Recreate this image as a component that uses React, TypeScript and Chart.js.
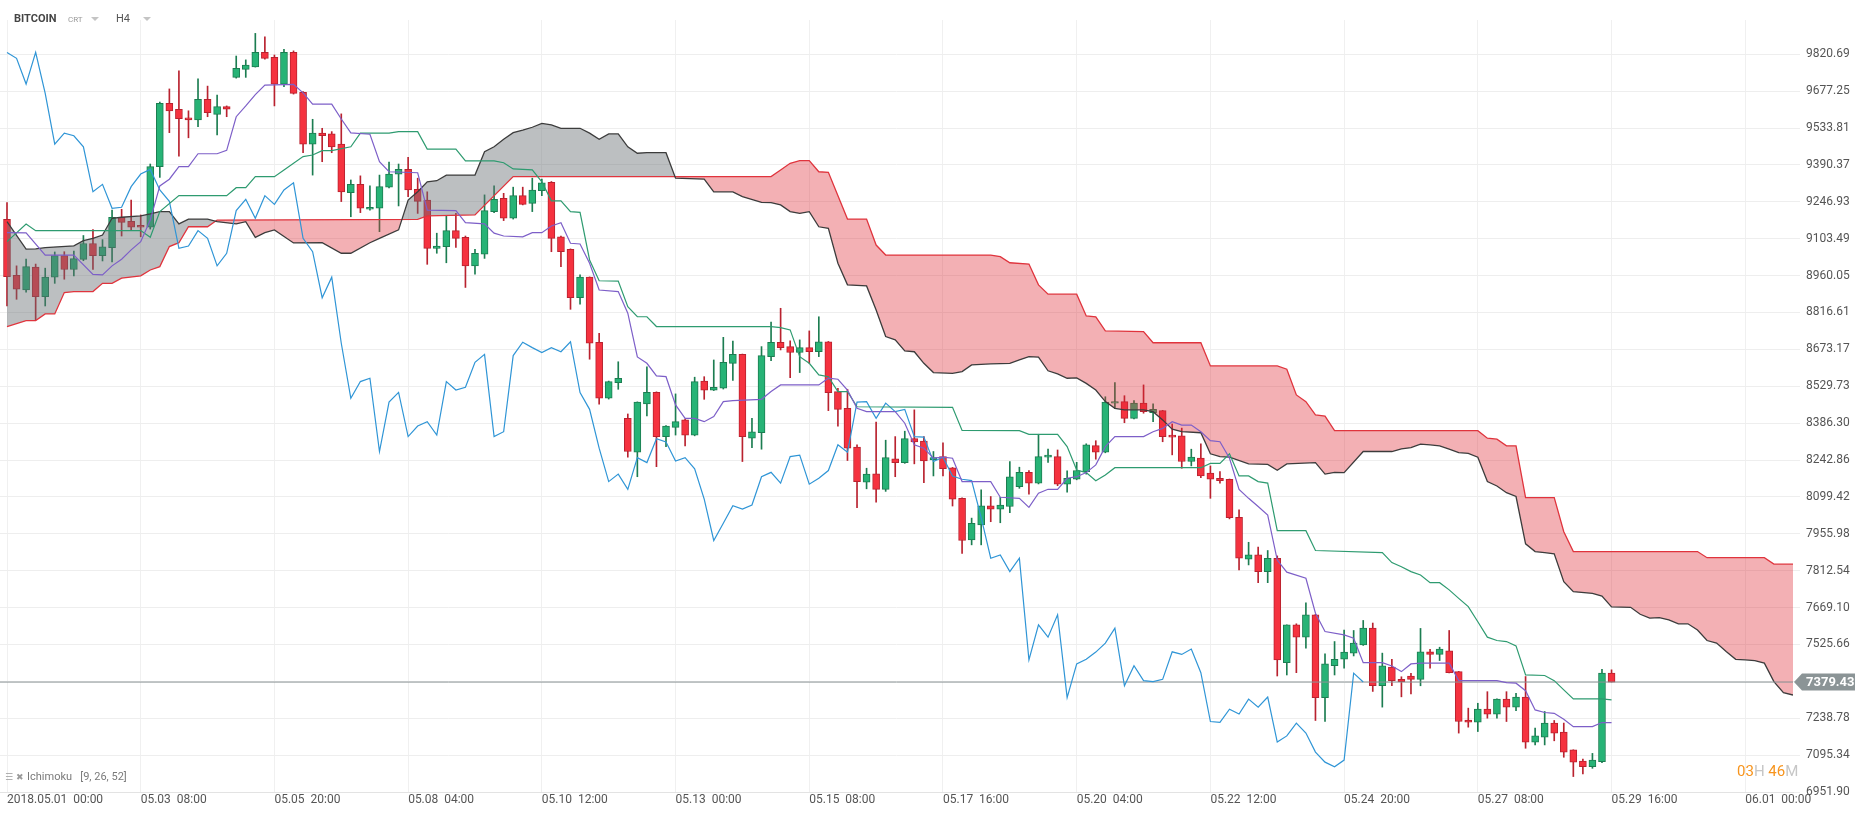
import React, { useEffect, useRef } from "react";
import { Chart, registerables } from "chart.js";

Chart.register(...registerables);

// ---- axis labels ----
const xTickLabels = [
  "2018.05.01  00:00", "05.03  08:00", "05.05  20:00", "05.08  04:00", "05.10  12:00",
  "05.13  00:00", "05.15  08:00", "05.17  16:00", "05.20  04:00", "05.22  12:00",
  "05.24  20:00", "05.27  08:00", "05.29  16:00", "06.01  00:00",
];
const barsPerLabel = 14; // 4h bars between labelled ticks
const yTickValues = [
  6951.9, 7095.34, 7238.78, 7382.22, 7525.66, 7669.1, 7812.54, 7955.98, 8099.42, 8242.86,
  8386.3, 8529.73, 8673.17, 8816.61, 8960.05, 9103.49, 9246.93, 9390.37, 9533.81, 9677.25, 9820.69,
];
const lastPrice = 7379.43;
const chikouShift = 26;

// ---- candles (H4) ----
const opens = [
  9179, 8961, 8904, 8993, 8878, 8954, 9038, 8984, 9023, 9085, 9038, 9069, 9187, 9171, 9156, 9148, 9384, 9630, 9607, 9574,
  9566, 9646, 9587, 9617, 9731, 9762, 9772, 9828, 9809, 9705, 9828, 9673, 9471, 9514, 9511, 9472, 9283, 9315, 9218, 9222,
  9304, 9355, 9373, 9296, 9254, 9066, 9073, 9135, 9109, 8998, 9043, 9209, 9261, 9183, 9271, 9241, 9290, 9323, 9111, 9062,
  8874, 8954, 8701, 8483, 8544, 8405, 8273, 8461, 8506, 8334, 8370, 8399, 8340, 8550, 8515, 8522, 8619, 8654, 8328, 8349,
  8645, 8701, 8684, 8661, 8680, 8664, 8703, 8509, 8444, 8293, 8157, 8189, 8129, 8248, 8233, 8326, 8317, 8243, 8256, 8213,
  8094, 7932, 7991, 8065, 8052, 8062, 8139, 8195, 8153, 8254, 8256, 8149, 8168, 8198, 8299, 8273, 8464, 8470, 8405, 8464,
  8427, 8435, 8340, 8337, 8237, 8250, 8192, 8172, 8168, 8020, 7857, 7874, 7809, 7861, 7455, 7602, 7554, 7641, 7319, 7443,
  7468, 7492, 7524, 7589, 7365, 7438, 7390, 7403, 7390, 7497, 7487, 7501, 7420, 7232, 7223, 7274, 7255, 7313, 7282, 7321,
  7146, 7165, 7220, 7185, 7116, 7072, 7050, 7070, 7414,
];
const highs = [
  9244, 8998, 9024, 9005, 8989, 9052, 9053, 9055, 9116, 9139, 9100, 9215, 9218, 9254, 9196, 9394, 9635, 9686, 9756, 9601,
  9725, 9697, 9662, 9620, 9814, 9799, 9902, 9889, 9818, 9840, 9834, 9676, 9568, 9533, 9520, 9589, 9332, 9348, 9309, 9351,
  9402, 9394, 9420, 9339, 9286, 9125, 9192, 9202, 9114, 9062, 9274, 9309, 9280, 9304, 9304, 9339, 9335, 9326, 9114, 9064,
  8963, 8955, 8736, 8550, 8625, 8422, 8469, 8605, 8508, 8377, 8500, 8402, 8565, 8567, 8632, 8720, 8705, 8655, 8405, 8684,
  8779, 8833, 8706, 8710, 8745, 8800, 8704, 8522, 8518, 8302, 8211, 8390, 8320, 8334, 8355, 8438, 8334, 8276, 8310, 8214,
  8096, 8017, 8127, 8101, 8098, 8237, 8215, 8202, 8343, 8285, 8282, 8201, 8234, 8306, 8318, 8489, 8544, 8493, 8474, 8535,
  8461, 8436, 8383, 8367, 8285, 8306, 8220, 8198, 8169, 8049, 7923, 7904, 7891, 7870, 7602, 7606, 7688, 7643, 7489, 7537,
  7582, 7580, 7619, 7609, 7492, 7468, 7400, 7413, 7588, 7507, 7515, 7580, 7421, 7278, 7297, 7342, 7314, 7342, 7336, 7401,
  7200, 7265, 7230, 7220, 7116, 7080, 7102, 7429, 7427,
];
const lows = [
  8842, 8868, 8896, 8788, 8842, 8930, 8946, 8959, 9018, 8984, 9017, 9013, 9114, 9137, 9111, 9141, 9342, 9516, 9425, 9496,
  9539, 9578, 9507, 9578, 9728, 9731, 9771, 9802, 9620, 9695, 9666, 9438, 9351, 9403, 9438, 9248, 9189, 9205, 9215, 9131,
  9301, 9231, 9267, 9202, 9004, 9047, 9010, 9070, 8914, 8966, 9027, 9205, 9174, 9180, 9235, 9209, 9271, 9053, 8995, 8829,
  8849, 8635, 8460, 8480, 8518, 8254, 8178, 8414, 8217, 8295, 8340, 8298, 8337, 8479, 8513, 8519, 8552, 8237, 8291, 8285,
  8629, 8671, 8563, 8583, 8619, 8645, 8435, 8375, 8241, 8058, 8131, 8079, 8121, 8178, 8230, 8228, 8155, 8181, 8181, 8064,
  7880, 7913, 7913, 8003, 7999, 8038, 8133, 8110, 8150, 8234, 8143, 8118, 8166, 8188, 8246, 8271, 8443, 8388, 8403, 8425,
  8392, 8314, 8263, 8211, 8220, 8174, 8094, 8153, 8014, 7816, 7835, 7766, 7766, 7403, 7407, 7416, 7511, 7230, 7226, 7407,
  7433, 7481, 7522, 7343, 7282, 7365, 7322, 7333, 7365, 7433, 7463, 7415, 7181, 7204, 7187, 7239, 7239, 7226, 7268, 7122,
  7135, 7135, 7151, 7087, 7012, 7022, 7044, 7066, 7379.43,
];
const closes = [
  8956, 8907, 8995, 8878, 8954, 9038, 8984, 9026, 9085, 9038, 9072, 9187, 9167, 9148, 9148, 9384, 9630, 9601, 9570, 9566,
  9646, 9594, 9617, 9607, 9766, 9779, 9828, 9805, 9705, 9828, 9669, 9471, 9514, 9504, 9461, 9286, 9315, 9222, 9226, 9306,
  9355, 9373, 9293, 9249, 9066, 9075, 9135, 9105, 8998, 9047, 9213, 9257, 9183, 9271, 9237, 9293, 9321, 9105, 9053, 8874,
  8954, 8697, 8483, 8548, 8561, 8276, 8468, 8506, 8334, 8375, 8392, 8340, 8548, 8515, 8526, 8623, 8654, 8334, 8353, 8649,
  8701, 8680, 8661, 8680, 8664, 8703, 8505, 8440, 8289, 8159, 8188, 8129, 8252, 8233, 8326, 8313, 8239, 8252, 8209, 8091,
  7930, 7997, 8065, 8052, 8068, 8178, 8195, 8153, 8256, 8262, 8149, 8172, 8202, 8302, 8273, 8468, 8470, 8405, 8464, 8431,
  8440, 8334, 8332, 8237, 8254, 8181, 8168, 8163, 8019, 7861, 7874, 7809, 7861, 7466, 7602, 7554, 7641, 7319, 7450, 7468,
  7496, 7531, 7589, 7365, 7443, 7385, 7381, 7390, 7497, 7487, 7508, 7416, 7226, 7223, 7274, 7255, 7313, 7282, 7321, 7146,
  7170, 7220, 7181, 7107, 7068, 7050, 7076, 7414, 7379.43,
];

// ---- Ichimoku lines, read as [bar index, price] vertices ----
const tenkan = [
  [0, 9127], [2, 9126], [4, 9040], [7, 9040], [9, 8965], [10, 8963], [11, 8998], [12, 9024], [13, 9060], [14, 9092],
  [15, 9176], [16, 9309], [17, 9335], [18, 9384], [19, 9384], [20, 9434], [22, 9434], [23, 9447], [24, 9578], [25, 9620],
  [26, 9664], [27, 9701], [30, 9704], [31, 9671], [32, 9627], [34, 9627], [35, 9569], [36, 9515], [38, 9510], [39, 9403],
  [40, 9364], [43, 9360], [44, 9215], [47, 9213], [48, 9166], [50, 9161], [51, 9125], [52, 9114], [54, 9111], [55, 9127],
  [56, 9127], [57, 9153], [58, 9166], [59, 9086], [60, 9083], [61, 9008], [62, 8904], [64, 8898], [65, 8814], [66, 8644],
  [67, 8619], [68, 8570], [69, 8567], [70, 8457], [71, 8405], [72, 8405], [73, 8392], [74, 8412], [75, 8470], [76, 8474],
  [79, 8479], [80, 8509], [81, 8535], [85, 8535], [86, 8561], [87, 8557], [88, 8515], [89, 8444], [90, 8431], [93, 8431],
  [94, 8386], [95, 8302], [96, 8289], [97, 8250], [98, 8254], [99, 8250], [100, 8159], [103, 8159], [104, 8098], [106, 8094],
  [107, 8059], [108, 8114], [109, 8129], [110, 8129], [111, 8172], [112, 8178], [113, 8194], [114, 8224], [115, 8295], [116, 8334],
  [119, 8334], [120, 8353], [121, 8366], [122, 8392], [123, 8379], [124, 8379], [125, 8353], [126, 8318], [127, 8314], [128, 8250],
  [129, 8129], [130, 8094], [131, 8062], [132, 8029], [133, 7854], [134, 7807], [136, 7783], [137, 7647], [138, 7576], [140, 7563],
  [141, 7550], [142, 7455], [144, 7455], [145, 7442], [146, 7420], [147, 7450], [148, 7453], [151, 7453], [152, 7385], [156, 7385],
  [157, 7377], [158, 7375], [159, 7346], [160, 7271], [161, 7261], [162, 7258], [163, 7235], [164, 7206], [166, 7206], [167, 7222],
  [168, 7222],
];
const kijun = [
  [0, 9092], [2, 9161], [3, 9135], [14, 9135], [15, 9109], [16, 9209], [18, 9271], [23, 9271], [24, 9302], [25, 9302],
  [26, 9345], [28, 9345], [29, 9371], [31, 9423], [32, 9429], [33, 9446], [34, 9446], [36, 9461], [37, 9514], [40, 9514],
  [41, 9520], [43, 9520], [44, 9452], [47, 9452], [48, 9406], [51, 9406], [52, 9399], [53, 9375], [55, 9371], [56, 9325],
  [57, 9251], [58, 9251], [59, 9209], [60, 9206], [61, 9021], [62, 8940], [64, 8939], [65, 8839], [66, 8800], [67, 8800],
  [68, 8762], [80, 8762], [81, 8758], [82, 8749], [83, 8645], [84, 8619], [85, 8574], [86, 8567], [87, 8509], [88, 8509],
  [89, 8450], [99, 8448], [100, 8358], [106, 8357], [107, 8343], [110, 8343], [111, 8295], [112, 8204], [113, 8194], [114, 8162],
  [115, 8185], [116, 8213], [125, 8213], [126, 8230], [127, 8230], [128, 8267], [129, 8181], [130, 8181], [131, 8159], [132, 8153],
  [133, 7968], [136, 7968], [137, 7891], [144, 7883], [145, 7844], [146, 7828], [147, 7809], [148, 7796], [149, 7766], [150, 7766],
  [151, 7738], [152, 7705], [153, 7673], [154, 7614], [155, 7554], [156, 7541], [157, 7537], [158, 7520], [159, 7407], [161, 7405],
  [162, 7385], [163, 7349], [164, 7314], [167, 7314], [168, 7310],
];
const senkouA = [
  [0, 9170], [2, 9063], [3, 9064], [4, 9069], [7, 9076], [8, 9096], [9, 9105], [10, 9118], [11, 9183], [12, 9187],
  [14, 9192], [15, 9200], [16, 9209], [17, 9209], [18, 9161], [19, 9180], [21, 9180], [22, 9170], [24, 9161], [25, 9170],
  [26, 9109], [27, 9127], [28, 9138], [30, 9087], [33, 9088], [35, 9047], [36, 9047], [38, 9088], [39, 9105], [41, 9138],
  [42, 9254], [43, 9286], [44, 9325], [45, 9329], [46, 9351], [49, 9351], [50, 9442], [51, 9461], [52, 9490], [53, 9516],
  [54, 9526], [55, 9537], [56, 9552], [57, 9546], [58, 9533], [60, 9533], [61, 9514], [62, 9490], [63, 9511], [64, 9511],
  [65, 9461], [66, 9436], [67, 9438], [69, 9438], [70, 9339], [73, 9335], [74, 9286], [76, 9286], [77, 9267], [79, 9245],
  [80, 9244], [81, 9235], [82, 9209], [83, 9202], [84, 9209], [85, 9150], [86, 9144], [87, 9008], [88, 8924], [90, 8920],
  [91, 8826], [92, 8723], [93, 8710], [94, 8667], [95, 8664], [96, 8619], [97, 8583], [99, 8580], [100, 8587], [101, 8613],
  [103, 8617], [105, 8619], [106, 8632], [107, 8645], [108, 8643], [109, 8590], [110, 8578], [111, 8561], [112, 8562], [113, 8541],
  [114, 8515], [115, 8470], [116, 8444], [117, 8438], [119, 8438], [120, 8431], [121, 8399], [122, 8363], [123, 8353], [125, 8349],
  [126, 8267], [127, 8256], [128, 8254], [130, 8228], [132, 8226], [133, 8203], [134, 8228], [137, 8233], [138, 8188], [139, 8195],
  [140, 8194], [142, 8276], [145, 8276], [146, 8286], [147, 8291], [148, 8305], [149, 8302], [150, 8298], [151, 8285], [152, 8272],
  [153, 8269], [154, 8254], [155, 8159], [156, 8142], [157, 8116], [158, 8101], [159, 7917], [160, 7887], [161, 7883], [162, 7878],
  [163, 7770], [164, 7731], [166, 7724], [167, 7714], [168, 7672], [170, 7670], [171, 7643], [172, 7628], [173, 7630], [174, 7621],
  [175, 7606], [176, 7606], [177, 7582], [178, 7541], [179, 7531], [180, 7498], [181, 7468], [182, 7466], [183, 7463], [184, 7453],
  [185, 7381], [186, 7338], [187, 7329],
];
const senkouB = [
  [0, 8762], [2, 8785], [3, 8785], [4, 8811], [5, 8811], [6, 8894], [7, 8898], [9, 8898], [10, 8930], [11, 8930],
  [12, 8950], [14, 8959], [15, 8982], [16, 8995], [17, 9073], [18, 9088], [19, 9150], [21, 9150], [22, 9176], [43, 9179],
  [44, 9192], [49, 9196], [53, 9345], [80, 9345], [81, 9371], [82, 9397], [83, 9407], [84, 9407], [85, 9364], [86, 9362],
  [88, 9180], [90, 9180], [91, 9079], [92, 9040], [103, 9040], [104, 9034], [105, 9010], [107, 9005], [108, 8924], [109, 8888],
  [112, 8888], [113, 8803], [114, 8800], [115, 8745], [119, 8742], [120, 8699], [125, 8699], [126, 8609], [133, 8609], [134, 8596],
  [135, 8496], [136, 8470], [137, 8418], [138, 8414], [139, 8357], [154, 8357], [155, 8328], [156, 8324], [157, 8298], [158, 8298],
  [159, 8097], [162, 8097], [163, 7964], [164, 7887], [177, 7887], [178, 7863], [184, 7863], [185, 7838], [187, 7838],
];

// ---- styles ----
const GREEN_FILL = "#27b376";
const GREEN_LINE = "#1c7d51";
const RED_FILL = "#f5323f";
const RED_LINE = "#b9222f";
const CLOUD_BULL = "rgba(102,110,114,0.44)";
const CLOUD_BEAR = "rgba(222,42,52,0.37)";

export default function App() {
  const canvasRef = useRef<HTMLCanvasElement | null>(null);

  useEffect(() => {
    const canvas = canvasRef.current;
    if (!canvas) return;
    const idx = opens.map((_, i) => i);
    const up = idx.map((i) => closes[i] >= opens[i]);
    const bodies = idx.map((i) => ({ x: i, y: [opens[i], closes[i]] }));
    const wicks = idx.map((i) => ({ x: i, y: [lows[i], highs[i]] }));
    const chikou = closes.slice(chikouShift).map((c, i) => ({ x: i, y: c }));
    const pts = (arr: number[][]) => arr.map(([x, y]) => ({ x, y }));
    const xMin = -0.733;
    const xMax = 187;

    const priceTag = {
      id: "priceTag",
      afterDraw(chart: any) {
        const ctx = chart.ctx;
        const y = chart.scales.y.getPixelForValue(lastPrice);
        const x0 = chart.chartArea.right + 1;
        ctx.save();
        ctx.fillStyle = "#8b9496";
        ctx.beginPath();
        ctx.moveTo(x0, y);
        ctx.lineTo(x0 + 8, y - 8.5);
        ctx.lineTo(1855, y - 8.5);
        ctx.lineTo(1855, y + 8.5);
        ctx.lineTo(x0 + 8, y + 8.5);
        ctx.closePath();
        ctx.fill();
        ctx.fillStyle = "#ffffff";
        ctx.font = "bold 13px Roboto";
        ctx.textBaseline = "middle";
        ctx.textAlign = "left";
        ctx.fillText(lastPrice.toFixed(2), 1806, y + 0.5);
        ctx.restore();
      },
    };

    const lineBase = { type: "line" as const, pointRadius: 0, tension: 0, fill: false };

    const chart = new Chart(canvas, {
      type: "bar",
      data: {
        datasets: [
          { ...lineBase, label: "Tenkan", data: pts(tenkan), borderColor: "#7d5fc8", borderWidth: 1.2, order: 1 },
          { ...lineBase, label: "Kijun", data: pts(kijun), borderColor: "#2e9b70", borderWidth: 1.2, order: 1 },
          { ...lineBase, label: "Chikou", data: chikou, borderColor: "#2f95d6", borderWidth: 1.2, order: 1 },
          {
            ...lineBase, label: "Price",
            data: [{ x: xMin, y: lastPrice }, { x: xMax, y: lastPrice }],
            borderColor: "#8b9496", borderWidth: 1, order: 2,
          },
          { ...lineBase, label: "SenkouA", data: pts(senkouA), borderColor: "#3c3c3c", borderWidth: 1.3, order: 3 },
          { ...lineBase, label: "SenkouB", data: pts(senkouB), borderColor: "#e0343d", borderWidth: 1.3, order: 3 },
          {
            ...lineBase, label: "Cloud", data: pts(senkouA), borderWidth: 0, borderColor: "rgba(0,0,0,0)",
            fill: { target: 5, above: CLOUD_BULL, below: CLOUD_BEAR }, order: 5,
          },
          {
            type: "bar", label: "Bodies", data: bodies as any,
            backgroundColor: up.map((u) => (u ? GREEN_FILL : RED_FILL)),
            borderColor: up.map((u) => (u ? GREEN_LINE : RED_LINE)),
            borderWidth: 1, borderSkipped: false, barThickness: 7, grouped: false, order: 10,
          },
          {
            type: "bar", label: "Wicks", data: wicks as any,
            backgroundColor: up.map((u) => (u ? GREEN_LINE : RED_LINE)),
            borderWidth: 0, barThickness: 1, grouped: false, order: 11,
          },
        ] as any,
      },
      options: {
        responsive: false,
        animation: false,
        events: [],
        layout: { padding: { top: 20, left: 0, right: 0, bottom: 0 } },
        plugins: { legend: { display: false }, tooltip: { enabled: false } },
        scales: {
          x: {
            type: "linear",
            min: xMin,
            max: xMax,
            offset: false,
            grid: { color: "#f0f0f0", drawTicks: false, offset: false },
            border: { display: true, color: "#e3e3e3" },
            afterBuildTicks: (s: any) => {
              s.ticks = xTickLabels.map((_, k) => ({ value: k * barsPerLabel }));
            },
            afterFit: (s: any) => {
              s.height = 25;
            },
            ticks: {
              autoSkip: false,
              maxRotation: 0,
              align: "start",
              padding: 1,
              color: "#555555",
              font: { family: "Roboto", size: 12 },
              callback: (v: any) => xTickLabels[Math.round(Number(v) / barsPerLabel)] ?? "",
            },
          },
          y: {
            type: "linear",
            position: "right",
            min: 6951.9,
            max: 9954.1,
            grid: { color: "#eeeeee", tickLength: 7 },
            border: { display: false },
            afterBuildTicks: (s: any) => {
              s.ticks = yTickValues.map((v) => ({ value: v }));
            },
            afterFit: (s: any) => {
              s.width = 73;
            },
            ticks: {
              padding: 6,
              color: "#555555",
              font: { family: "Roboto", size: 12 },
              callback: (v: any) => Number(v).toFixed(2),
            },
          },
        },
      } as any,
      plugins: [priceTag],
    });
    return () => chart.destroy();
  }, []);

  const tri = (left: number) => (
    <div
      style={{
        position: "absolute", left, top: 17, width: 0, height: 0,
        borderLeft: "4px solid transparent", borderRight: "4px solid transparent",
        borderTop: "4px solid #c4c4c4",
      }}
    />
  );

  return (
    <div style={{ position: "fixed", left: 0, top: 0, width: 1866, height: 817, background: "#fff", overflow: "hidden" }}>
      <canvas ref={canvasRef} width={1866} height={817} style={{ display: "block", width: 1866, height: 817 }} />
      <div style={{ position: "absolute", left: 14, top: 13, font: "bold 11px Roboto", lineHeight: "12px", color: "#454545" }}>
        BITCOIN
      </div>
      <div style={{ position: "absolute", left: 68, top: 15, font: "8px Roboto", lineHeight: "9px", color: "#9a9a9a" }}>CRT</div>
      {tri(91)}
      <div style={{ position: "absolute", left: 116, top: 13, font: "11px Roboto", lineHeight: "12px", color: "#555" }}>H4</div>
      {tri(143)}
      <div style={{ position: "absolute", left: 5, top: 771, font: "9px 'DejaVu Sans'", lineHeight: "12px", color: "#9a9a9a" }}>☰</div>
      <div style={{ position: "absolute", left: 16, top: 771, font: "9px 'DejaVu Sans'", lineHeight: "12px", color: "#9a9a9a" }}>✖</div>
      <div
        style={{
          position: "absolute", left: 27, top: 771, font: "11px Roboto", lineHeight: "12px", color: "#7a7a7a",
          whiteSpace: "pre",
        }}
      >
        Ichimoku   [9, 26, 52]
      </div>
      <div style={{ position: "absolute", left: 1737, top: 763, font: "15px Roboto", lineHeight: "16px", whiteSpace: "pre" }}>
        <span style={{ color: "#f7941d" }}>03</span>
        <span style={{ color: "#c6c6c6" }}>H </span>
        <span style={{ color: "#f7941d" }}>46</span>
        <span style={{ color: "#c6c6c6" }}>M</span>
      </div>
    </div>
  );
}
